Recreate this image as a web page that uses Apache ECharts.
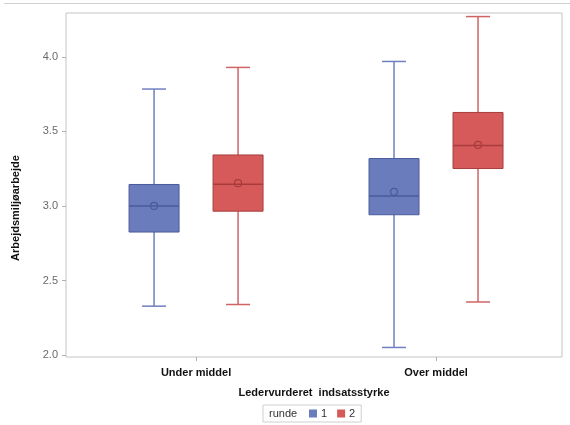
<!DOCTYPE html>
<html><head><meta charset="utf-8">
<script src="https://cdn.jsdelivr.net/npm/echarts@6/dist/echarts.min.js"></script>
<style>html,body{margin:0;padding:0;background:#fff}#c{width:570px;height:425px}</style>
</head><body><div id="c"></div>
<script>
const categories = ['Under middel', 'Over middel'];
const seriesNames = ['1', '2'];
// [min, q1, median, q3, max, mean] per category
const runde1 = [
  [2.328, 2.825, 3.000, 3.144, 3.784, 3.000],
  [2.051, 2.941, 3.066, 3.318, 3.969, 3.095]
];
const runde2 = [
  [2.339, 2.965, 3.146, 3.342, 3.929, 3.153],
  [2.356, 3.251, 3.405, 3.627, 4.270, 3.409]
];
const yTicks = [2.0, 2.5, 3.0, 3.5, 4.0];

const fills = ['#6a7cbb', '#d75a5b'];
const strokes = ['#4a5b9c', '#a83c3c'];
const whisk = ['#6f80c0', '#d06464'];
const offsets = [-42, 42];

function makeSeries(idx, values) {
  return {
    name: seriesNames[idx],
    type: 'custom',
    itemStyle: { color: fills[idx] },
    data: values.map((v, i) => [i].concat(v)),
    encode: { x: 0, y: [1, 2, 3, 4, 5] },
    renderItem: function (params, api) {
      const x = api.value(0);
      const off = offsets[idx];
      const pMin = api.coord([x, api.value(1)]);
      const pQ1 = api.coord([x, api.value(2)]);
      const pMed = api.coord([x, api.value(3)]);
      const pQ3 = api.coord([x, api.value(4)]);
      const pMax = api.coord([x, api.value(5)]);
      const pMean = api.coord([x, api.value(6)]);
      const cx = pMin[0] + off;
      const bw = 50, cw = 24;
      const ls = { stroke: whisk[idx], lineWidth: 1.5 };
      return {
        type: 'group',
        children: [
          { type: 'line', shape: { x1: cx, y1: pMax[1], x2: cx, y2: pQ3[1] }, style: ls },
          { type: 'line', shape: { x1: cx, y1: pQ1[1], x2: cx, y2: pMin[1] }, style: ls },
          { type: 'line', shape: { x1: cx - cw / 2, y1: pMax[1], x2: cx + cw / 2, y2: pMax[1] }, style: ls },
          { type: 'line', shape: { x1: cx - cw / 2, y1: pMin[1], x2: cx + cw / 2, y2: pMin[1] }, style: ls },
          { type: 'rect', shape: { x: cx - bw / 2, y: pQ3[1], width: bw, height: pQ1[1] - pQ3[1] },
            style: { fill: fills[idx], stroke: strokes[idx], lineWidth: 1 } },
          { type: 'line', shape: { x1: cx - bw / 2, y1: pMed[1], x2: cx + bw / 2, y2: pMed[1] },
            style: { stroke: strokes[idx], lineWidth: 1.5 } },
          { type: 'circle', shape: { cx: cx, cy: pMean[1], r: 3.5 },
            style: { fill: 'none', stroke: strokes[idx], lineWidth: 1.2 } }
        ]
      };
    }
  };
}

const chart = echarts.init(document.getElementById('c'), null, { renderer: 'canvas' });
chart.setOption({
  backgroundColor: '#ffffff',
  animation: false,
  textStyle: { fontFamily: 'Liberation Sans, Arial, sans-serif' },
  grid: { left: 66, top: 13, right: 8, bottom: 68, show: true, borderColor: '#c4c4c4', borderWidth: 1 },
  xAxis: {
    type: 'value', min: -0.542, max: 1.525,
    name: 'Ledervurderet  indsatsstyrke', nameLocation: 'middle', nameGap: 30,
    nameTextStyle: { fontWeight: 'bold', fontSize: 11, color: '#111' },
    splitLine: { show: false },
    axisLine: { show: false, onZero: false },
    axisTick: { show: true, length: 4, customValues: [0, 1], lineStyle: { color: '#b0b0b0' } },
    axisLabel: { customValues: [0, 1], formatter: v => categories[Math.round(v)] || '',
      fontWeight: 'bold', fontSize: 11, color: '#111', margin: 10 }
  },
  yAxis: {
    type: 'value', min: 1.987, max: 4.294,
    splitLine: { show: false },
    axisLine: { show: false, onZero: false },
    axisTick: { show: true, length: 4, customValues: yTicks, lineStyle: { color: '#b0b0b0' } },
    axisLabel: { customValues: yTicks, formatter: v => v.toFixed(1), fontSize: 11, color: '#6a6a6a', margin: 8 }
  },
  legend: {
    data: seriesNames,
    icon: 'rect',
    left: 263, top: 405,
    itemWidth: 8, itemHeight: 8, itemGap: 10,
    borderColor: '#cfcfcf', borderWidth: 1,
    padding: [3, 6, 3, 46],
    textStyle: { fontSize: 11, color: '#333', padding: [0, 0, 0, -1] },
    selectedMode: false
  },
  graphic: [
    { type: 'line', shape: { x1: 4, y1: 3.5, x2: 570, y2: 3.5 }, style: { stroke: '#d0d0d0', lineWidth: 1 } },
    { type: 'text', x: 269, y: 408, style: { text: 'runde', fontSize: 11, fill: '#333', fontFamily: 'Liberation Sans, Arial, sans-serif' } },
    { type: 'text', x: 16, y: 208, rotation: Math.PI / 2,
      style: { text: 'Arbejdsmiljøarbejde', fontSize: 11, fontWeight: 'bold', fill: '#111', align: 'center', verticalAlign: 'middle',
        fontFamily: 'Liberation Sans, Arial, sans-serif' } }
  ],
  series: [makeSeries(0, runde1), makeSeries(1, runde2)]
});
</script>
</body></html>
